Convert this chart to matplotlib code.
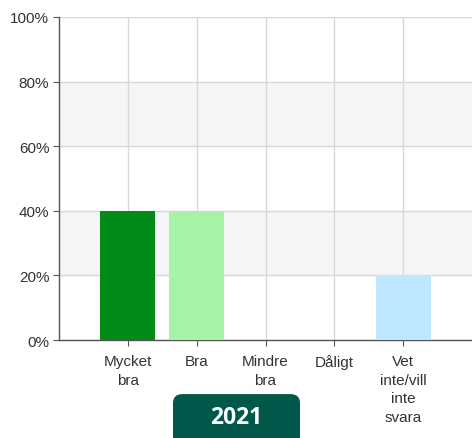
import matplotlib.pyplot as plt
from matplotlib.patches import FancyBboxPatch

plt.rcParams['font.family'] = ['Liberation Sans', 'DejaVu Sans']

categories = ['Mycket\nbra', 'Bra', 'Mindre\nbra', 'Dåligt', 'Vet\ninte/vill\ninte\nsvara']
values = [40, 40, 0, 0, 20]
colors = ['#008c17', '#a6f3a8', '#a6f3a8', '#a6f3a8', '#bde6ff']
yticks = [0, 20, 40, 60, 80, 100]
year = '2021'

fig = plt.figure(figsize=(4.72, 4.39), dpi=100)
ax = fig.add_axes([0.125, 0.2232, 0.875, 0.7358])

# alternating bands
for i in range(len(yticks) - 1):
    if i % 2 == 1:
        ax.axhspan(yticks[i], yticks[i + 1], color='#f5f5f5', zorder=0, lw=0)

x = list(range(len(categories)))
ax.bar(x, values, width=0.8, color=colors, zorder=3)

ax.set_xlim(-1, 5)
ax.set_ylim(0, 100)
ax.set_yticks(yticks)
ax.set_yticklabels([f'{t}%' for t in yticks])
ax.set_xticks(x)
ax.set_xticklabels(categories, linespacing=1.42)

ax.grid(True, color='#d8d8d8', lw=1, zorder=1)
ax.set_axisbelow(True)

for s in ['top', 'right']:
    ax.spines[s].set_visible(False)
for s in ['left', 'bottom']:
    ax.spines[s].set_color('#555555')
    ax.spines[s].set_linewidth(1)

ax.tick_params(axis='both', colors='#555555', length=4, labelsize=11,
               labelcolor='#333333')
ax.tick_params(axis='y', pad=3)
ax.tick_params(axis='x', pad=6)

badge = FancyBboxPatch((173 / 472, -0.02), 127 / 472, 0.12,
                       boxstyle='round,pad=0,rounding_size=0.02',
                       transform=fig.transFigure, facecolor='#00584a',
                       edgecolor='none')
fig.patches.append(badge)
fig.text(236.5 / 472, 1 - 418 / 439, year, color='white', fontsize=16.5,
         fontweight='bold', ha='center', va='center',
         family=['Open Sans', 'DejaVu Sans'])

fig.savefig('out.png', dpi=100)
